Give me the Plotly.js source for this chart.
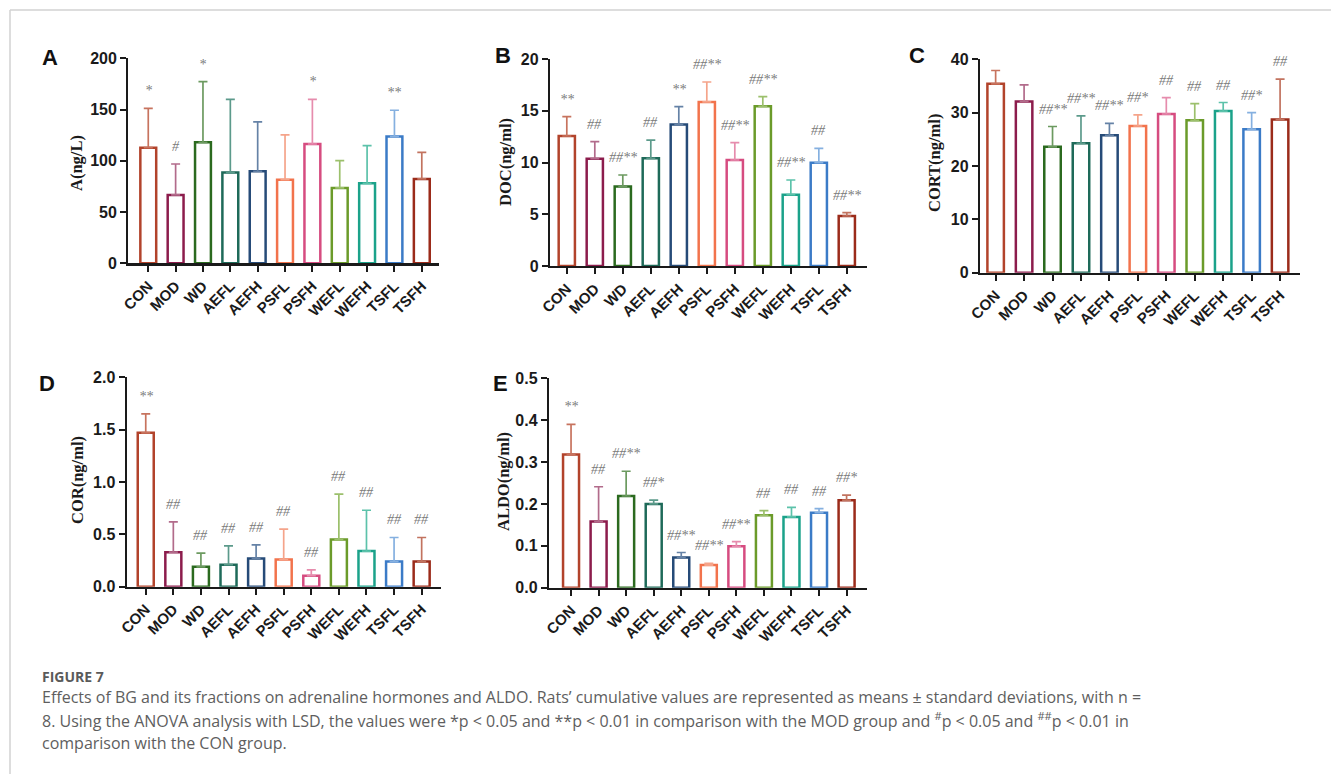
<!DOCTYPE html>
<html><head><meta charset="utf-8">
<script src="https://cdn.plot.ly/plotly-3.0.1.min.js"></script>
<style>html,body{margin:0;padding:0;background:#fff;overflow:hidden}</style>
</head><body><div id="chart" style="width:1331px;height:774px"></div>
<script>
// ---------- data ----------
const categories = ['CON','MOD','WD','AEFL','AEFH','PSFL','PSFH','WEFL','WEFH','TSFL','TSFH'];
const barColors = ['#b2432b','#8c1c4c','#2b6a1f','#1e6a59','#264b78','#f2734c','#d64c80','#6b9b2a','#1ba28a','#3b7bc7','#9b2b1a'];
const errColors = ['#c7735e','#b26b8b','#6c9a60','#5c9a8b','#6582a6','#f5a48a','#e68cad','#9cc06c','#5cc2aa','#85b0e0','#c2735f'];

const meanA = [112.8, 66.7, 118.0, 88.5, 89.8, 81.6, 116.4, 73.5, 78.0, 123.6, 82.3];
const topA  = [151.2, 96.9, 177.2, 160.0, 137.9, 125.2, 160.0, 100.2, 114.8, 149.3, 108.3];
const sigA  = ['*','#','*','','','','*','','','**',''];

const meanB = [12.56, 10.37, 7.67, 10.40, 13.66, 15.85, 10.24, 15.43, 6.89, 9.98, 4.83];
const topB  = [14.43, 12.01, 8.79, 12.17, 15.39, 17.78, 11.92, 16.36, 8.31, 11.37, 5.15];
const sigB  = ['**','##','##**','##','**','##**','##**','##**','##**','##','##**'];

const meanC = [35.4, 32.1, 23.6, 24.25, 25.75, 27.5, 29.75, 28.56, 30.3, 26.9, 28.7];
const topC  = [37.9, 35.2, 27.4, 29.4, 28.0, 29.6, 32.8, 31.7, 31.9, 30.0, 36.3];
const sigC  = ['','','##**','##**','##**','##*','##','##','##','##*','##'];

const meanD = [1.47, 0.33, 0.19, 0.21, 0.27, 0.26, 0.105, 0.45, 0.34, 0.24, 0.24];
const topD  = [1.65, 0.62, 0.32, 0.39, 0.40, 0.55, 0.16, 0.885, 0.73, 0.47, 0.47];
const sigD  = ['**','##','##','##','##','##','##','##','##','##','##'];

const meanE = [0.318, 0.158, 0.219, 0.200, 0.072, 0.054, 0.099, 0.173, 0.169, 0.179, 0.209];
const topE  = [0.390, 0.241, 0.278, 0.209, 0.084, 0.058, 0.110, 0.184, 0.192, 0.189, 0.221];
const sigE  = ['**','##','##**','##*','##**','##**','##**','##','##','##','##*'];

const panelLetters = ['A','B','C','D','E'];
const yTitles = ['A(ng/L)','DOC(ng/ml)','CORT(ng/ml)','COR(ng/ml)','ALDO(ng/ml)'];

// ---------- layout geometry (pixels) ----------
const W = 1331, H = 774;
const panels = [
  {mean:meanA, top:topA, sig:sigA, l:128.3, r:439.3, y0:263.3, yT:58.3, ymax:200, dtick:50, fmt:'d',  xr:[-0.73,10.64], letter:[50,57], title:[77,163]},
  {mean:meanB, top:topB, sig:sigB, l:550,   r:866.7, y0:266,   yT:59,   ymax:20,  dtick:5,  fmt:'d',  xr:[-0.6,10.71],  letter:[503,55], title:[505,162]},
  {mean:meanC, top:topC, sig:sigC, l:980,   r:1300,  y0:272.7, yT:59.3, ymax:40,  dtick:10, fmt:'d',  xr:[-0.55,10.70], letter:[917,55], title:[935,163]},
  {mean:meanD, top:topD, sig:sigD, l:126.7, r:440.7, y0:586.7, yT:377.3,ymax:2.0, dtick:0.5,fmt:'.1f',xr:[-0.69,10.69], letter:[47,383], title:[77,480]},
  {mean:meanE, top:topE, sig:sigE, l:549,   r:866.7, y0:587.7, yT:378.3,ymax:0.5, dtick:0.1,fmt:'.1f',xr:[-0.8,10.73],  letter:[500,383], title:[504,482]}
];
const fx = p => p / W;
const fy = p => 1 - p / H;

const data = [];
const layout = {
  width: W, height: H, margin: {l:0, r:0, t:0, b:0}, autosize: false,
  paper_bgcolor: '#fff', plot_bgcolor: 'rgba(0,0,0,0)',
  barmode: 'overlay', showlegend: false,
  annotations: [], shapes: []
};
const axisCol = '#1a1a1a';

panels.forEach((p, i) => {
  const k = i === 0 ? '' : String(i + 1);
  categories.forEach((c, j) => {
    data.push({
      type: 'bar', x: [c], y: [p.mean[j]], width: [0.58],
      xaxis: 'x' + k, yaxis: 'y' + k,
      marker: {color: '#ffffff', line: {color: barColors[j], width: 2.5}},
      error_y: {type: 'data', symmetric: false, array: [p.top[j] - p.mean[j]], arrayminus: [0],
                color: errColors[j], thickness: 1.7, width: 4.5},
      hoverinfo: 'skip'
    });
    if (p.sig[j]) {
      layout.annotations.push({
        xref: 'x' + k, yref: 'y' + k, x: c, y: p.top[j], text: p.sig[j],
        showarrow: false, yanchor: 'bottom', yshift: 8,
        font: {family: 'Liberation Serif', size: 14, color: '#7a7a7a', style: 'italic'}
      });
    }
  });
  layout['xaxis' + k] = {
    domain: [fx(p.l), fx(p.r)], anchor: 'y' + k, type: 'category',
    categoryorder: 'array', categoryarray: categories, range: p.xr,
    showline: true, linewidth: 2.2, linecolor: axisCol, mirror: false,
    ticks: 'outside', ticklen: 6, tickwidth: 2, tickcolor: axisCol,
    tickangle: -45, tickfont: {family: 'Liberation Sans', size: 15, weight: 'bold', color: axisCol},
    showgrid: false, zeroline: false, fixedrange: true
  };
  layout['yaxis' + k] = {
    domain: [fy(p.y0), fy(p.yT)], anchor: 'x' + k, range: [0, p.ymax], dtick: p.dtick, tick0: 0,
    tickformat: p.fmt === 'd' ? 'd' : '.1f',
    showline: true, linewidth: 2.2, linecolor: axisCol,
    ticks: 'outside', ticklen: 6, tickwidth: 2, tickcolor: axisCol,
    tickfont: {family: 'Liberation Sans', size: 16, weight: 'bold', color: axisCol},
    showgrid: false, zeroline: false, fixedrange: true
  };
  layout.annotations.push({
    xref: 'paper', yref: 'paper', x: fx(p.letter[0]), y: fy(p.letter[1]), text: panelLetters[i],
    showarrow: false, xanchor: 'center', yanchor: 'middle',
    font: {family: 'Liberation Sans', size: 22, weight: 'bold', color: '#111'}
  });
  layout.annotations.push({
    xref: 'paper', yref: 'paper', x: fx(p.title[0]), y: fy(p.title[1]), text: yTitles[i],
    showarrow: false, xanchor: 'center', yanchor: 'middle', textangle: -90,
    font: {family: 'Liberation Serif', size: 16.5, weight: 'bold', color: '#1a1a1a'}
  });
});

// caption
const captionHead = 'FIGURE 7';
const captionLines = [
  'Effects of BG and its fractions on adrenaline hormones and ALDO. Rats\u2019 cumulative values are represented as means \u00b1 standard deviations, with n =',
  '8. Using the ANOVA analysis with LSD, the values were *p < 0.05 and **p < 0.01 in comparison with the MOD group and <sup>#</sup>p < 0.05 and <sup>##</sup>p < 0.01 in',
  'comparison with the CON group.'
];
layout.annotations.push({
  xref: 'paper', yref: 'paper', x: fx(40), y: fy(676), text: captionHead, showarrow: false,
  xanchor: 'left', yanchor: 'middle',
  font: {family: 'Open Sans', size: 14, weight: 'bold', color: '#5a5a5a'}
});
[697, 720, 743].forEach((py, i) => {
  layout.annotations.push({
    xref: 'paper', yref: 'paper', x: fx(40), y: fy(py), text: captionLines[i], showarrow: false,
    xanchor: 'left', yanchor: 'middle',
    font: {family: 'Open Sans', size: 16, color: '#5e5e5e'}
  });
});

// frame lines
layout.shapes.push({type: 'line', xref: 'paper', yref: 'paper', x0: fx(10), x1: 1, y0: fy(10), y1: fy(10), line: {color: '#d2d2d2', width: 1.5}});
layout.shapes.push({type: 'line', xref: 'paper', yref: 'paper', x0: fx(10), x1: fx(10), y0: fy(10), y1: 0, line: {color: '#d2d2d2', width: 1.5}});

Plotly.newPlot('chart', data, layout, {staticPlot: true, displayModeBar: false});
</script>
</body></html>
